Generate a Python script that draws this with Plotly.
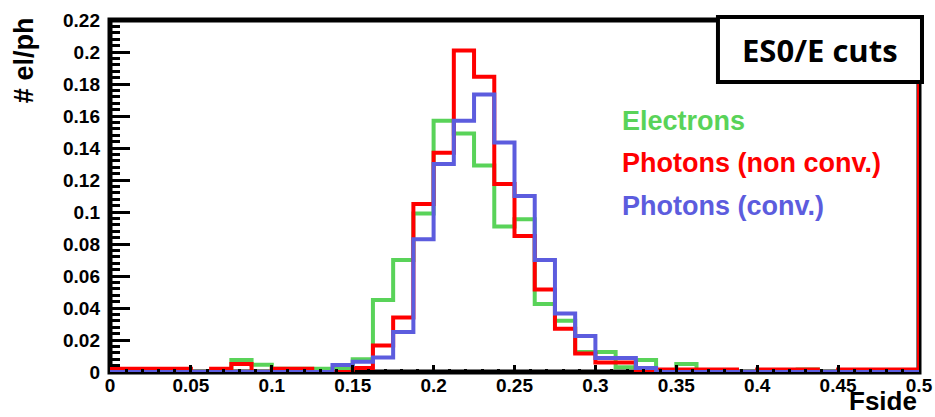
import plotly.graph_objects as go

# Fside histograms, 40 bins of width 0.0125 between 0 and 0.5
bin_width = 0.0125
n_bins = 40
edges = [round(i * bin_width, 5) for i in range(n_bins + 1)]

electrons = [
    0, 0, 0, 0, 0, 0,
    0.0075, 0.0045, 0.002, 0.002, 0.002, 0.002,
    0.008, 0.045, 0.070, 0.099, 0.157, 0.149, 0.129, 0.091, 0.0955, 0.0425, 0.032, 0.0125,
    0.0125, 0.003, 0.0075, 0, 0.005, 0,
    0, 0, 0, 0, 0.0015, 0, 0, 0, 0, 0,
]
photons_nonconv = [
    0.002, 0.002, 0.002, 0.002, 0, 0.002,
    0.005, 0, 0.002, 0.002, 0, 0,
    0.0025, 0.0165, 0.034, 0.105, 0.137, 0.201, 0.1845, 0.1175, 0.085, 0.0515, 0.027, 0.0115,
    0.006, 0.006, 0, 0.0015, 0.0015, 0.0015,
    0.0015, 0, 0.0015, 0.0015, 0.0015, 0, 0.0015, 0.0015, 0.0015, 0.0015,
]
photons_conv = [
    0, 0, 0, 0, 0, 0,
    0, 0, 0, 0, 0, 0.0044,
    0.0064, 0.009, 0.025, 0.083, 0.130, 0.157, 0.1735, 0.1435, 0.110, 0.070, 0.0365, 0.0225,
    0.0088, 0.0088, 0.0025, 0, 0, 0,
    0, 0, 0, 0, 0, 0, 0, 0, 0, 0,
]
# the non-converted photon line rises along the upper edge of the range
nonconv_tail = 0.22

series_names = ["Electrons", "Photons (non conv.)", "Photons (conv.)"]
series_colors = ["rgb(89,211,89)", "rgb(255,0,0)", "rgb(92,92,222)"]

x_ticks = [round(0.05 * i, 2) for i in range(11)]
y_ticks = [round(0.02 * i, 2) for i in range(12)]

fig = go.Figure()

series_tails = [electrons[-1], nonconv_tail, photons_conv[-1]]
for vals, col, tail in zip([electrons, photons_nonconv, photons_conv], series_colors, series_tails):
    fig.add_trace(go.Scatter(
        x=edges,
        y=vals + [tail],
        mode="lines",
        line=dict(shape="hv", color=col, width=4),
        cliponaxis=False,
        showlegend=False,
        hoverinfo="skip",
    ))

tick_font = dict(family="Liberation Sans", size=19, color="black", weight="bold")

fig.update_layout(
    width=935,
    height=417,
    autosize=False,
    margin=dict(l=110, r=16, t=20, b=45, autoexpand=False),
    paper_bgcolor="white",
    plot_bgcolor="white",
    xaxis=dict(
        range=[0, 0.5],
        tickvals=x_ticks,
        ticktext=[f"{v:g}" for v in x_ticks],
        ticks="inside",
        ticklen=7,
        tickwidth=3,
        tickcolor="black",
        minor=dict(dtick=0.01, tick0=0, ticks="inside", ticklen=3, tickwidth=3, tickcolor="black"),
        showgrid=False,
        zeroline=False,
        showline=False,
        automargin=False,
        tickfont=tick_font,
        ticklabelstandoff=0,
        layer="above traces",
    ),
    yaxis=dict(
        range=[0, 0.22],
        tickvals=y_ticks,
        ticktext=[f"{v:g}" for v in y_ticks],
        ticks="inside",
        ticklen=20,
        tickwidth=3,
        tickcolor="black",
        minor=dict(dtick=0.004, tick0=0, ticks="inside", ticklen=10, tickwidth=3, tickcolor="black"),
        showgrid=False,
        zeroline=False,
        showline=False,
        automargin=False,
        tickfont=tick_font,
        ticklabelstandoff=9,
        layer="above traces",
    ),
)

# frame around the plotting area
fig.add_shape(type="rect", xref="paper", yref="paper", x0=0, y0=0, x1=1, y1=1,
              line=dict(color="black", width=5), fillcolor="rgba(0,0,0,0)", layer="below")

# label box in the top-right corner
fig.add_shape(type="rect", xref="paper", yref="paper", x0=0.7515, y0=0.824, x1=1.0037, y1=1.0085,
              line=dict(color="black", width=4), fillcolor="white", layer="above")
fig.add_annotation(text="ES0/E cuts", xref="paper", yref="paper", x=0.8776, y=0.915,
                   xanchor="center", yanchor="middle", showarrow=False,
                   font=dict(family="Open Sans", size=31, color="black", weight="bold"))

# series labels
label_y = [0.713, 0.594, 0.4716]
for name, col, yy in zip(series_names, series_colors, label_y):
    fig.add_annotation(text=name, xref="paper", yref="paper", x=0.6304, y=yy,
                       xanchor="left", yanchor="middle", showarrow=False,
                       font=dict(family="Liberation Sans", size=27, color=col, weight="bold"))

# axis titles
fig.add_annotation(text="# el/ph", xref="paper", yref="paper", x=-0.1063, y=0.886,
                   xanchor="center", yanchor="middle", textangle=-90, showarrow=False,
                   font=dict(family="Liberation Sans", size=27, color="black", weight="bold"))
fig.add_annotation(text="Fside", xref="paper", yref="paper", x=0.9988, y=-0.1285,
                   xanchor="right", yanchor="bottom", showarrow=False, borderpad=0,
                   font=dict(family="Liberation Sans", size=26, color="black", weight="bold"))

fig.write_html("out.html")
